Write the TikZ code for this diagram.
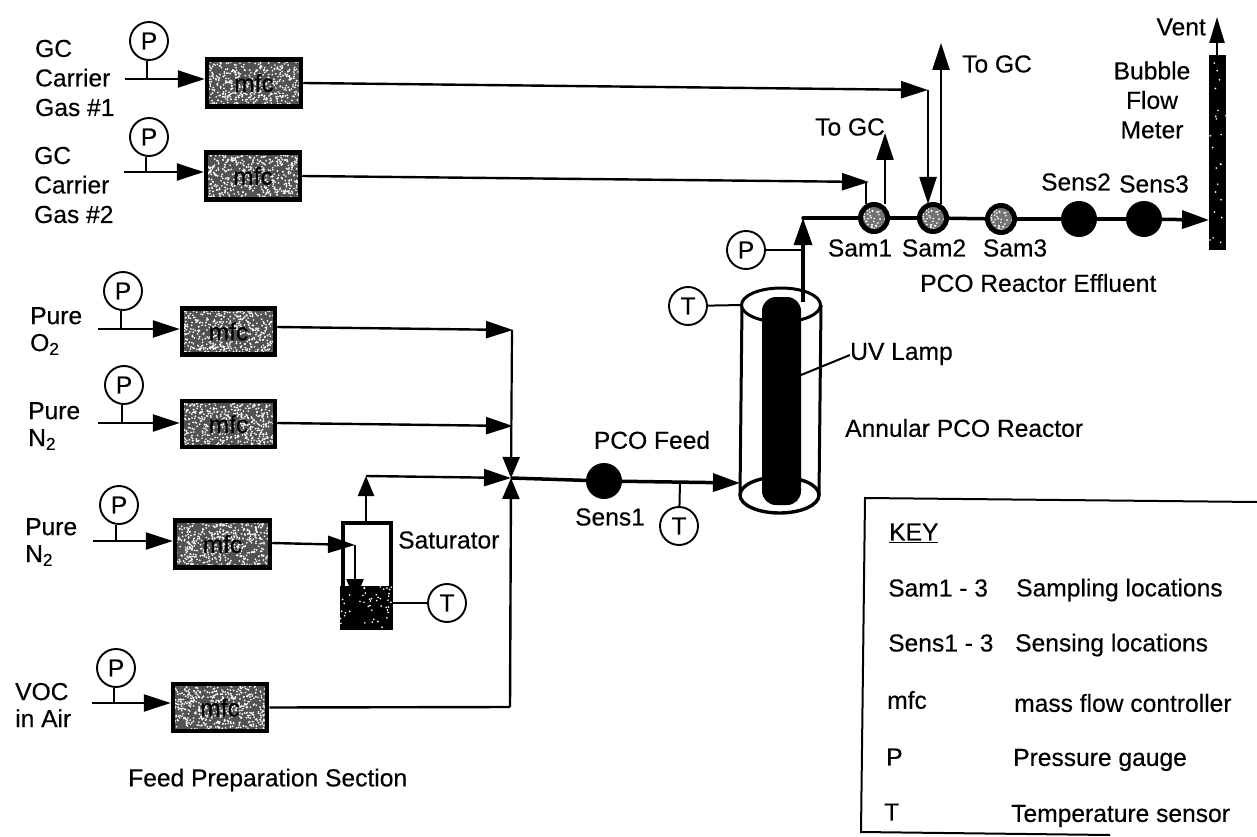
\documentclass[tikz,border=0pt]{standalone}
\usepackage{fontspec}
\setmainfont{Liberation Sans}[FakeBold=0.35]
\usetikzlibrary{arrows.meta,calc}
\newcommand{\specks}[2]{\pgfmathsetseed{#2}\foreach \i in {1,...,#1}{%
  \pgfmathsetmacro{\sx}{rnd}\pgfmathsetmacro{\sy}{rnd}%
  \path let \p1=(path picture bounding box.south west),\p2=(path picture bounding box.north east) in
    coordinate (q) at ({\x1+\sx*(\x2-\x1)},{\y1+\sy*(\y2-\y1)});
  \fill[white] (q) circle (0.95pt);}}
\tikzset{
  x=1pt,y=-1pt,
  lbl/.style={font=\fontsize{24.6}{29.5}\selectfont,inner sep=0pt,align=left,text=black},
  gauge/.style={circle,draw=black,line width=1.9pt,minimum size=38pt,inner sep=0pt,fill=white,font=\fontsize{24.6}{24.6}\selectfont},
  mfcbox/.style={rectangle,draw=black,line width=4.5pt,fill=black!68,inner sep=0pt,font=\fontsize{24.6}{24.6}\selectfont,
     path picture={\specks{520}{#1}}},
  sam/.style={circle,draw=black,line width=5pt,fill=black!55,minimum size=27pt,inner sep=0pt,path picture={\specks{70}{7}}},
  sens/.style={circle,fill=black,minimum size=36pt,inner sep=0pt},
  thin line/.style={line width=2pt,black},
  pipe/.style={line width=2.4pt,black,-{Triangle[length=27pt,width=17pt]}},
  bigpipe/.style={line width=3.5pt,black,-{Triangle[length=27pt,width=18pt]}},
  plain pipe/.style={line width=2.4pt,black},
}
\begin{document}
\begin{tikzpicture}
\useasboundingbox (0,0) rectangle (1257,837);
% ---------- mfc boxes
\node[mfcbox=11,minimum width=94pt,minimum height=47pt] (m1) at (254,83) {mfc};
\node[mfcbox=12,minimum width=94pt,minimum height=47pt] (m2) at (253,176) {mfc};
\node[mfcbox=13,minimum width=93pt,minimum height=46pt] (m3) at (228.5,331.5) {mfc};
\node[mfcbox=14,minimum width=93pt,minimum height=46pt] (m4) at (228.5,424) {mfc};
\node[mfcbox=15,minimum width=95pt,minimum height=47pt] (m5) at (222.5,544) {mfc};
\node[mfcbox=16,minimum width=94pt,minimum height=47pt] (m6) at (220,707.5) {mfc};
% ---------- pressure gauges and feed lines
\node[gauge] (p1) at (149,41) {P};
\coordinate (s1) at (125,79); \coordinate (j1) at (147,79);
\draw[thin line] (p1.south -| j1) -- (j1);
\draw[pipe] (s1) -- (m1.west |- s1);
\node[gauge] (p2) at (149,137) {P};
\coordinate (s2) at (124,172); \coordinate (j2) at (146,172);
\draw[thin line] (p2.south -| j2) -- (j2);
\draw[pipe] (s2) -- (m2.west |- s2);
\node[gauge] (p3) at (123,291) {P};
\coordinate (s3) at (98,329); \coordinate (j3) at (121,329);
\draw[thin line] (p3.south -| j3) -- (j3);
\draw[pipe] (s3) -- (m3.west |- s3);
\node[gauge] (p4) at (124,385) {P};
\coordinate (s4) at (98,423); \coordinate (j4) at (122,423);
\draw[thin line] (p4.south -| j4) -- (j4);
\draw[pipe] (s4) -- (m4.west |- s4);
\node[gauge] (p5) at (119,505) {P};
\coordinate (s5) at (93,541); \coordinate (j5) at (116,541);
\draw[thin line] (p5.south -| j5) -- (j5);
\draw[pipe] (s5) -- (m5.west |- s5);
\node[gauge] (p6) at (116,668) {P};
\coordinate (s6) at (92,703); \coordinate (j6) at (114,703);
\draw[thin line] (p6.south -| j6) -- (j6);
\draw[pipe] (s6) -- (m6.west |- s6);
% ---------- effluent line elements
\node[sam] (sam1) at (874,218) {};
\node[sam] (sam2) at (933,218) {};
\node[sam] (sam3) at (1001,219) {};
\node[sens] (sens2) at (1079,219) {};
\node[sens] (sens3) at (1144,219) {};
\node[rectangle,fill=black,minimum width=17pt,minimum height=195pt,inner sep=0pt,path picture={\specks{22}{5}}] (meter) at (1217.5,152.5) {};
% ---------- reactor
\coordinate (rtl) at (742,305); \coordinate (rtr) at (821,305);
\coordinate (rbl) at (740,495); \coordinate (rbr) at (819,495);
\draw[line width=3pt] (rtl) -- (rbl) (rtr) -- (rbr);
\draw[line width=3pt,fill=white] (781,305) ellipse (39.5 and 17);
\draw[line width=3.4pt,fill=white] (779.5,495) ellipse (39.5 and 18);
\fill[black,rounded corners=14pt] (762,297) rectangle (801,505);
\node[gauge] (tr) at (688,306) {T};
\coordinate (ra) at (rtl);
\draw[thin line] (tr) -- (ra);
\coordinate (rout) at (803,302);
\coordinate (bend) at (803,218);
\node[gauge] (pr) at (746,250) {P};
\coordinate (jp) at (803,250);
\draw[thin line] (pr) -- (jp);
\draw[bigpipe] (rout) -- (bend);
\draw[line width=3.5pt,line cap=round] (bend) -- (sam1);
\draw[line width=3.5pt] (sam1) -- (sam2);
\draw[line width=3.5pt] (sam2) -- (sam3);
\draw[line width=3.5pt] (sam3) -- (sens2);
\draw[line width=3.5pt] (sens2) -- (sens3);
\coordinate (mi) at (1209,220);
\draw[bigpipe] (sens3) -- (mi);
% ---------- GC lines
\coordinate (c1) at (928,90);
\draw[pipe] (m1.east) -- (c1);
\coordinate (c2) at (869,182);
\draw[pipe] (m2.east) -- (c2);
\coordinate (d1) at (866,204);
\draw[thin line] (c2) ++(-3,0) -- (d1);
\coordinate (d2) at (928,204);
\draw[pipe] (c1) -- (d2);
\coordinate (u1) at (885,204); \coordinate (u1t) at (885,133);
\draw[pipe] (u1) -- (u1t);
\coordinate (u2) at (941,204); \coordinate (u2t) at (941,43);
\draw[pipe] (u2) -- (u2t);
\coordinate (vb) at (1217,55); \coordinate (vt) at (1217,17);
\draw[line width=2.4pt,-{Triangle[length=26pt,width=15pt]}] (vb) -- (vt);
% ---------- junction and feed
\coordinate (jn) at (511,478);
\coordinate (a3) at (513,330); \coordinate (a4) at (513,426);
\draw[pipe] (m3.east |- 0,327) -- (a3);
\draw[pipe] (m4.east |- 0,423) -- (a4);
\draw[line width=2.2pt,-{Triangle[length=21pt,width=17pt]}] (a3) ++(-1,0) -- (jn);
\coordinate (vb2) at (510,707);
\draw[line width=2.4pt,-{Triangle[length=21pt,width=17pt]}] (vb2) -- (jn);
\draw[plain pipe] (m6.east) -- (vb2);
% ---------- saturator
\node[rectangle,draw=black,line width=4pt,minimum width=48pt,minimum height=104pt,inner sep=0pt] (sat) at (366.5,574.5) {};
\fill[black,path picture={\specks{45}{3}}] (340,586) rectangle (393,630);
\coordinate (i1) at (355,545); \coordinate (i2) at (355,601);
\draw[pipe] (m5.east |- 0,543) -- (i1);
\draw[line width=2.4pt,black,-{Triangle[length=22pt,width=17pt]}] (i1) -- (i2);
\coordinate (o0) at (366,521); \coordinate (o1) at (366,476);
\draw[line width=2.4pt,-{Triangle[length=20pt,width=16pt]}] (o0) -- (o1);
\draw[pipe] (o1) -- (jn);
\node[gauge] (ts) at (447,603) {T};
\coordinate (se) at (392,603);
\draw[thin line] (se) -- (ts);
% ---------- PCO feed
\node[sens] (sens1) at (604,481) {};
\coordinate (ri) at (740,483);
\draw[line width=3.5pt] (jn) -- (sens1);
\draw[bigpipe] (sens1) -- (ri);
\node[gauge] (tf) at (679,526) {T};
\coordinate (jf) at (680,482);
\draw[thin line] (jf) -- (tf);
% ---------- UV lamp leader
\coordinate (uv0) at (801,375); \coordinate (uv1) at (850,355);
\draw[thin line] (uv0) -- (uv1);
% ---------- labels
\node[lbl,anchor=west] (lg1) at (35,78) {GC\\Carrier\\Gas \#1};
\node[lbl,anchor=west] (lg2) at (34,185) {GC\\Carrier\\Gas \#2};
\node[lbl,anchor=west,font=\fontsize{24.6}{27}\selectfont] (lo2) at (30,331) {Pure\\O\textsubscript{2}};
\node[lbl,anchor=west,font=\fontsize{24.6}{27}\selectfont] (ln2a) at (28,426) {Pure\\N\textsubscript{2}};
\node[lbl,anchor=west,font=\fontsize{24.6}{27}\selectfont] (ln2b) at (25,542) {Pure\\N\textsubscript{2}};
\node[lbl,anchor=west,font=\fontsize{24.6}{27}\selectfont] (lv) at (15,705) {VOC\\in Air};
\node[lbl,anchor=west] (lfp) at (128,780) {Feed Preparation Section};
\node[lbl,anchor=west] (lsat) at (398,540) {Saturator};
\node[lbl] (lpf) at (652,440) {PCO Feed};
\node[lbl] (ls1) at (610,517) {Sens1};
\node[lbl,anchor=west] (luv) at (850,354) {UV Lamp};
\node[lbl,anchor=west] (lar) at (845,428) {Annular PCO Reactor};
\node[lbl,anchor=west] (lgc1) at (815,127) {To GC};
\node[lbl,anchor=west] (lgc2) at (962,64) {To GC};
\node[lbl] (lsa1) at (860,248) {Sam1};
\node[lbl] (lsa2) at (934,248) {Sam2};
\node[lbl] (lsa3) at (1015,248) {Sam3};
\node[lbl] (lse2) at (1076,182) {Sens2};
\node[lbl] (lse3) at (1154,184) {Sens3};
\node[lbl,anchor=west] (ler) at (920,283) {PCO Reactor Effluent};
\node[lbl,anchor=east] (lvent) at (1206,27) {Vent};
\node[lbl,align=center] (lbf) at (1152,100) {Bubble\\Flow\\Meter};
% ---------- key
\coordinate (ktr) at (1257,502); \coordinate (ktl) at (865,498);
\coordinate (kbl) at (861,832); \coordinate (kbr) at (1110,835);
\draw[line width=2pt] (ktr) -- (ktl) -- (kbl) -- (kbr);
\node[lbl,anchor=west] (kk) at (889,533) {\underline{KEY}};
\node[lbl,anchor=west] (k1) at (888,588) {Sam1 - 3};
\node[lbl,anchor=west] (k2) at (888,643) {Sens1 - 3};
\node[lbl,anchor=west] (k3) at (887,700) {mfc};
\node[lbl,anchor=west] (k4) at (886,757) {P};
\node[lbl,anchor=west] (k5) at (884,812) {T};
\node[lbl,anchor=west] (d1k) at (1016,590) {Sampling locations};
\node[lbl,anchor=west] (d2k) at (1015,645) {Sensing locations};
\node[lbl,anchor=west] (d3k) at (1014,703) {mass flow controller};
\node[lbl,anchor=west] (d4k) at (1013,760) {Pressure gauge};
\node[lbl,anchor=west] (d5k) at (1011,816) {Temperature sensor};
\end{tikzpicture}
\end{document}
